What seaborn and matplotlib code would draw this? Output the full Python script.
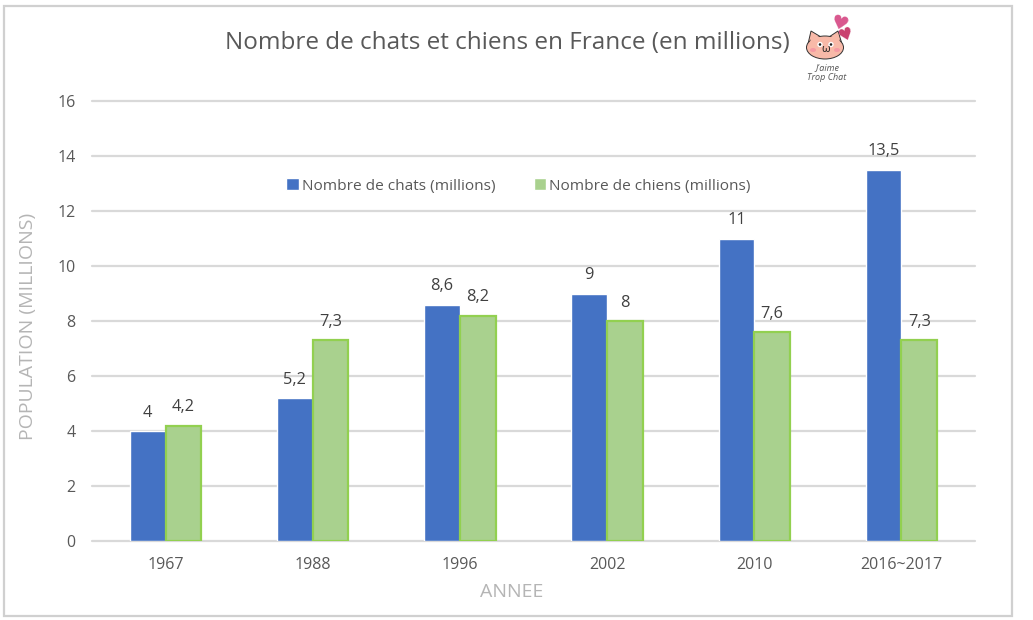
import pandas as pd
import matplotlib.pyplot as plt
import seaborn as sns
from matplotlib.patches import Ellipse, Polygon, Rectangle, Circle

annees = ['1967', '1988', '1996', '2002', '2010', '2016~2017']
chats = [4, 5.2, 8.6, 9, 11, 13.5]
chiens = [4.2, 7.3, 8.2, 8, 7.6, 7.3]
labels_chats = ['4', '5,2', '8,6', '9', '11', '13,5']
labels_chiens = ['4,2', '7,3', '8,2', '8', '7,6', '7,3']

BLUE = '#4472c4'
GREEN = '#a9d18e'
EDGE = '#92d050'
TEXT = '#595959'
AXIS_TITLE = '#b5b5b5'

sns.set_theme(style='white')
plt.rcParams['font.family'] = ['Open Sans', 'DejaVu Sans']

df = pd.DataFrame({
    'annee': annees * 2,
    'valeur': chats + chiens,
    'serie': ['Nombre de chats (millions)'] * 6 + ['Nombre de chiens (millions)'] * 6,
})

fig = plt.figure(figsize=(10.33, 6.2), dpi=100)
W, H = 1033, 620
ax = fig.add_axes([92 / W, 1 - 541 / H, (975 - 92) / W, 440 / H])

sns.barplot(data=df, x='annee', y='valeur', hue='serie', palette=[BLUE, GREEN],
            width=0.485, gap=0, saturation=1, ax=ax, zorder=3)

for bar in ax.containers[1]:
    bar.set_edgecolor(EDGE)
    bar.set_linewidth(1.6)

ax.bar_label(ax.containers[0], labels=labels_chats, padding=7.5, fontsize=11.8, color='#404040')
ax.bar_label(ax.containers[1], labels=labels_chiens, padding=7.5, fontsize=11.8, color='#404040')

ax.set_xlim(-0.5, 5.5)
ax.set_ylim(0, 16)
ax.set_yticks(range(0, 17, 2))
ax.grid(axis='y', color='#d9d9d9', linewidth=1.6, zorder=0)
for line in ax.get_ygridlines():
    line.set_clip_on(False)
ax.set_axisbelow(True)
sns.despine(ax=ax, left=True, bottom=True, right=True, top=True)
ax.tick_params(axis='both', length=0, labelsize=11.5, labelcolor=TEXT)
ax.tick_params(axis='x', pad=11.5)
ax.tick_params(axis='y', pad=12)

ax.set_xlabel('')
ax.set_ylabel('')
fig.text(512 / W, 1 - 592 / H, 'ANNEE', ha='center', va='center', fontsize=14, color=AXIS_TITLE)
fig.text(28 / W, 1 - 326 / H, 'POPULATION (MILLIONS)', rotation=90, ha='center', va='center',
         fontsize=14, color=AXIS_TITLE)
fig.text(507 / W, 1 - 43 / H, 'Nombre de chats et chiens en France (en millions)',
         ha='center', va='center', fontsize=17.5, color=TEXT)

leg = ax.legend(loc='center', bbox_to_anchor=(0.483, 0.807), ncol=2, frameon=False,
                fontsize=11.1, handlelength=0.8, handleheight=0.8, handletextpad=0.2,
                columnspacing=2.5)
for t in leg.get_texts():
    t.set_color(TEXT)

# cadre autour du graphique
fig.add_artist(Rectangle((4 / W, 1 - 616 / H), 1008 / W, 610 / H, transform=fig.transFigure,
                         fill=False, edgecolor='#d0d0d0', linewidth=1.6))

# petit logo chat
logo = fig.add_axes([795 / W, 1 - 92 / H, 70 / W, 76 / H])
logo.set_xlim(795, 865)
logo.set_ylim(92, 16)
logo.axis('off')
skin = '#f8b9a8'
logo.add_patch(Polygon([(808, 44), (811, 31), (821, 37)], fc=skin, ec='#333333', lw=0.7))
logo.add_patch(Polygon([(829, 37), (838, 31), (842, 44)], fc=skin, ec='#333333', lw=0.7))
logo.add_patch(Ellipse((825, 47.5), 37, 23, fc=skin, ec='#333333', lw=0.7))
logo.add_patch(Polygon([(810, 43), (812, 33), (821, 38), (829, 38), (838, 33), (840, 43)], fc=skin, ec='none'))
logo.add_patch(Ellipse((813, 50), 6, 4, fc='#f59aa3', ec='none'))
logo.add_patch(Ellipse((837, 50), 6, 4, fc='#f59aa3', ec='none'))
logo.add_patch(Circle((820, 44.5), 2, fc='#222222'))
logo.add_patch(Circle((831, 44.5), 2, fc='#222222'))
logo.text(825.5, 50, 'ω', ha='center', va='center', fontsize=8, color='#222222')
logo.text(839, 24, '♥', ha='center', va='center', fontsize=14, color='#d9578e', rotation=-15)
logo.text(846, 36, '♥', ha='center', va='center', fontsize=12, color='#c9406f', rotation=20)
logo.text(827, 68, "J'aime", ha='center', va='center', fontsize=6.5, color='#555555', style='italic')
logo.text(827, 78, 'Trop Chat', ha='center', va='center', fontsize=6.5, color='#555555', style='italic')

fig.savefig('out.png', dpi=100)
